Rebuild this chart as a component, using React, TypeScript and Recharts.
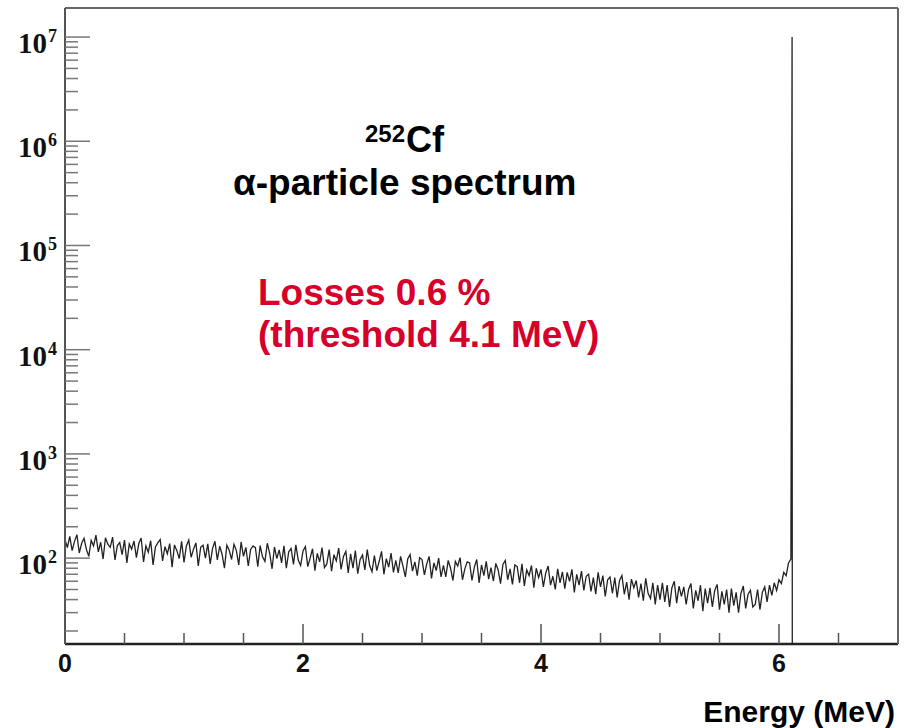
import React from "react"
import { LineChart, Line, XAxis, YAxis } from "recharts"

// 252Cf alpha spectrum, counts per 0.02 MeV bin starting at 0 MeV
const binWidth = 0.02
const counts = [
  150, 126, 162, 118, 145, 168, 112, 139, 155, 121,
  104, 148, 131, 166, 115, 142, 98, 157, 136, 127,
  159, 96, 132, 141, 108, 149, 90, 137, 122, 146,
  101, 138, 156, 92, 131, 114, 147, 86, 128, 140,
  151, 94, 129, 110, 138, 82, 134, 118, 99, 145,
  91, 131, 149, 102, 122, 140, 84, 127, 133, 100,
  137, 88, 124, 145, 96, 130, 109, 80, 133, 119,
  97, 136, 118, 86, 143, 104, 127, 84, 121, 131,
  126, 83, 132, 103, 93, 139, 111, 79, 128, 99,
  120, 90, 131, 80, 115, 124, 87, 134, 96, 85,
  117, 129, 83, 100, 123, 76, 111, 92, 126, 81,
  88, 121, 75, 108, 94, 125, 78, 104, 116, 72,
  110, 80, 118, 71, 97, 107, 77, 121, 85, 74,
  106, 76, 93, 116, 70, 99, 82, 112, 73, 95,
  72, 104, 84, 66, 98, 108, 75, 92, 68, 101,
  97, 69, 88, 104, 64, 90, 76, 100, 66, 85,
  66, 95, 80, 61, 93, 84, 101, 62, 79, 92,
  90, 61, 82, 97, 58, 86, 68, 93, 63, 81,
  60, 89, 77, 57, 87, 95, 62, 79, 56, 86,
  83, 58, 88, 54, 77, 68, 85, 52, 80, 65,
  78, 53, 72, 84, 55, 67, 50, 79, 58, 74,
  51, 73, 60, 78, 47, 70, 55, 75, 49, 67,
  70, 48, 65, 45, 73, 53, 68, 43, 62, 66,
  46, 65, 42, 61, 68, 45, 59, 40, 63, 52,
  61, 42, 57, 39, 64, 46, 41, 58, 36, 55,
  40, 58, 38, 55, 34, 52, 60, 37, 54, 43,
  53, 36, 50, 57, 33, 49, 39, 55, 31, 51,
  37, 52, 34, 49, 56, 32, 48, 36, 50, 30,
  51, 35, 47, 30, 46, 54, 33, 45, 49, 34,
  36, 50, 32, 47, 53, 38, 55, 44, 58, 49,
  62, 57, 73, 68, 90,
]
// the 6.11 MeV line and the empty bins after it
const peakEnergies = [6.1, 6.11, 6.112]
const peakCounts = [98, 1e7, 1]

const xTicks = [0, 0.5, 1, 1.5, 2, 2.5, 3, 3.5, 4, 4.5, 5, 5.5, 6, 6.5]
const xLabels = [0, 2, 4, 6]
const decades = [1, 2, 3, 4, 5, 6]
const multipliers = [1, 2, 3, 4, 5, 6, 7, 8, 9]

const table = [
  ...counts.map((c, i) => ({ energy: +(i * binWidth).toFixed(3), counts: c })),
  ...peakEnergies.map((e, i) => ({ energy: e, counts: peakCounts[i] })),
]

const yTicks: number[] = []
decades.forEach((d) => {
  multipliers.forEach((m) => {
    const v = m * Math.pow(10, d)
    if (v >= 20 && v <= 1e7) yTicks.push(v)
  })
})
yTicks.push(1e7)

const serif = "'Liberation Serif', 'Times New Roman', serif"
const sans = "'Liberation Sans', Arial, sans-serif"

function YTick(props: any) {
  const { x, y, payload } = props
  const lg = Math.log10(payload.value)
  const exp = Math.round(lg)
  const major = Math.abs(lg - exp) < 1e-6
  return (
    <g>
      <line x1={x} x2={x + (major ? 25 : 13)} y1={y} y2={y} stroke="#777" strokeWidth={1.5} />
      {major && (
        <>
          <text x={x - 18} y={y + 16} textAnchor="end" fontFamily={serif} fontWeight="bold" fontSize={29} fill="#111">
            10
          </text>
          <text x={x - 17} y={y + 5} textAnchor="start" fontFamily={serif} fontWeight="bold" fontSize={18} fill="#111">
            {exp}
          </text>
        </>
      )}
    </g>
  )
}

function XTick(props: any) {
  const { x, y, payload } = props
  const major = xLabels.includes(payload.value)
  return (
    <g>
      <line x1={x} x2={x} y1={y} y2={y - (major ? 20 : 11)} stroke="#555" strokeWidth={1.5} />
      {major && (
        <text x={x} y={y + 28} textAnchor="middle" fontFamily={sans} fontWeight="bold" fontSize={25} fill="#111">
          {payload.value}
        </text>
      )}
    </g>
  )
}

export default function App() {
  return (
    <div style={{ position: "absolute", left: 0, top: 0, width: 908, height: 728, background: "#fff" }}>
      <LineChart width={908} height={728} data={table} margin={{ top: 7, right: 9, left: 64, bottom: 83 }}>
        <XAxis
          dataKey="energy"
          type="number"
          domain={[0, 7]}
          ticks={xTicks}
          interval={0}
          tick={<XTick />}
          tickSize={0}
          tickMargin={0}
          height={1}
          axisLine={{ stroke: "#222", strokeWidth: 2.5 }}
          tickLine={false}
        />
        <XAxis
          xAxisId="top"
          orientation="top"
          dataKey="energy"
          type="number"
          domain={[0, 7]}
          height={1}
          tick={false}
          tickLine={false}
          axisLine={{ stroke: "#666", strokeWidth: 2 }}
        />
        <YAxis
          scale="log"
          type="number"
          domain={[15, 1.9e7]}
          allowDataOverflow
          ticks={yTicks}
          interval={0}
          tick={<YTick />}
          tickSize={0}
          tickMargin={0}
          width={1}
          axisLine={{ stroke: "#555", strokeWidth: 2 }}
          tickLine={false}
        />
        <YAxis
          yAxisId="right"
          orientation="right"
          type="number"
          domain={[0, 1]}
          width={1}
          tick={false}
          tickLine={false}
          axisLine={{ stroke: "#666", strokeWidth: 2 }}
        />
        <Line
          type="linear"
          dataKey="counts"
          stroke="#222"
          strokeWidth={1.3}
          dot={false}
          isAnimationActive={false}
        />
      </LineChart>
      <svg width={908} height={728} style={{ position: "absolute", left: 0, top: 0, pointerEvents: "none" }}>
        <text x={365} y={142} fontFamily={sans} fontWeight="bold" fontSize={24} fill="#000">252</text>
        <text x={406} y={152} fontFamily={sans} fontWeight="bold" fontSize={36} fill="#000">Cf</text>
        <text x={233} y={195} fontFamily={sans} fontWeight="bold" fontSize={37} fill="#000">α-particle spectrum</text>
        <text x={258} y={305} fontFamily={sans} fontWeight="bold" fontSize={37} fill="#d6002a">Losses 0.6 %</text>
        <text x={258} y={347} fontFamily={sans} fontWeight="bold" fontSize={37} fill="#d6002a">(threshold 4.1 MeV)</text>
        <text x={895} y={722} textAnchor="end" fontFamily={sans} fontWeight="bold" fontSize={30} fill="#000">Energy (MeV)</text>
      </svg>
    </div>
  )
}
